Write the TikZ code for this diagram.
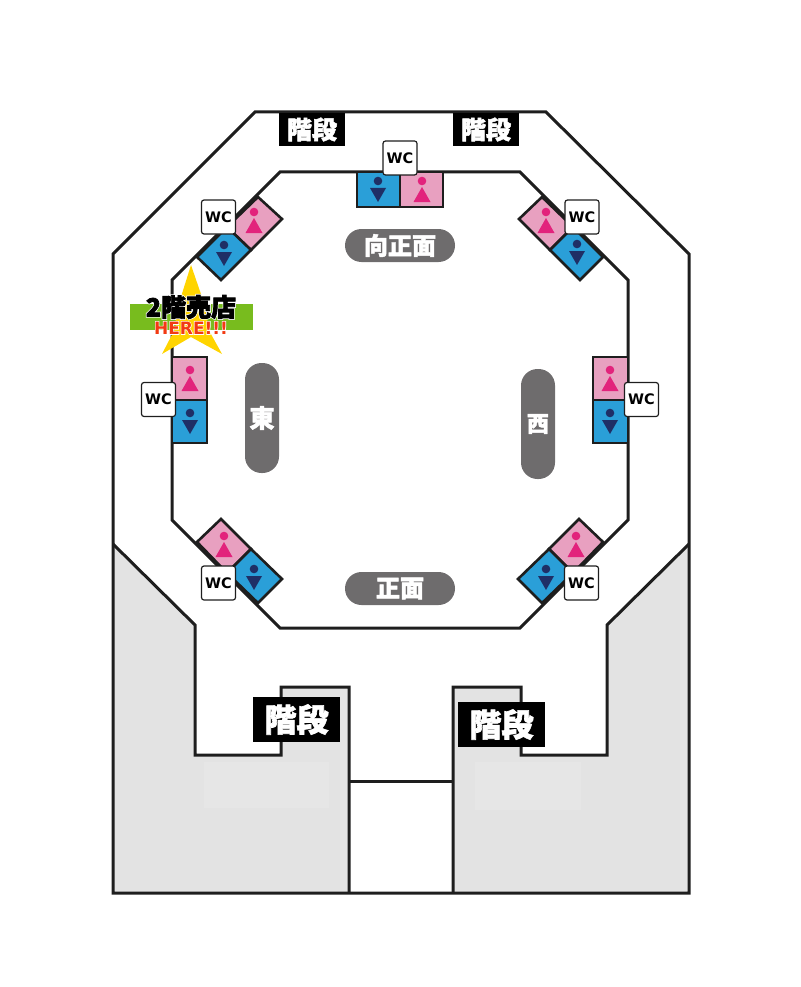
\documentclass[tikz,border=0pt]{standalone}
\usepackage{fontspec}
\usepackage{xcolor}
\newfontfamily\jpfont{Noto Sans CJK JP}[BoldFeatures={FakeBold=2}]
\newfontfamily\heavyfont{Noto Sans CJK JP}[BoldFeatures={FakeBold=3}]
\newfontfamily\halofont{Noto Sans CJK JP}[BoldFeatures={FakeBold=9}]
\newfontfamily\haloherefont{DejaVu Sans}[BoldFeatures={FakeBold=7}]
\setsansfont{DejaVu Sans}
\definecolor{floorgray}{HTML}{E3E3E3}
\definecolor{patchgray}{HTML}{E6E6E6}
\definecolor{pillgray}{HTML}{6E6C6D}
\definecolor{ladypink}{HTML}{E8A0C0}
\definecolor{ladymark}{HTML}{E2237C}
\definecolor{gentsblue}{HTML}{2A9FD8}
\definecolor{gentsmark}{HTML}{1F2F66}
\definecolor{linedark}{HTML}{1E1E1E}
\definecolor{barfill}{HTML}{78BC1E}
\definecolor{starfill}{HTML}{FFD400}
\definecolor{hereorange}{HTML}{F23A12}
\tikzset{
  floorline/.style={draw=linedark,line width=3pt,line join=miter},
  ladycell/.style={draw=linedark,line width=2.6pt,fill=ladypink},
  gentscell/.style={draw=linedark,line width=2.6pt,fill=gentsblue},
  wcbox/.style={draw=linedark,line width=1.2pt,fill=white,rounded corners=2.5pt,minimum width=34pt,minimum height=34pt,inner sep=0pt,font=\sffamily\bfseries\fontsize{14.5}{14.5}\selectfont},
  stairsbox/.style={fill=black,text=white,inner sep=0pt,font=\jpfont\bfseries},
  pillbox/.style={fill=pillgray,text=white,inner sep=0pt,rounded corners=16.5pt,font=\jpfont\bfseries\fontsize{24}{24}\selectfont}
}
\newcommand{\ladyicon}[2]{\fill[ladymark] (#1,#2) circle (4.3);
\fill[ladymark] (#1,#2+6) -- (#1+8.5,#2+21) -- (#1-8.5,#2+21) -- cycle;}
\newcommand{\gentsicon}[2]{\fill[gentsmark] (#1,#2) circle (4.3);
\fill[gentsmark] (#1-8,#2+7) -- (#1+8,#2+7) -- (#1,#2+21) -- cycle;}

\begin{document}
\begin{tikzpicture}[x=1pt,y=-1pt]
\useasboundingbox (0,0) rectangle (800,987);
% floor plan
\fill[floorgray] (113,544) -- (195,625) -- (195,755) -- (281,755) -- (281,687) -- (349,687) -- (349,893) -- (113,893) -- cycle;
\fill[floorgray] (689,544) -- (607,625) -- (607,755) -- (521,755) -- (521,687) -- (453,687) -- (453,893) -- (689,893) -- cycle;
\fill[patchgray] (204,762) rectangle (329,808);
\fill[patchgray] (475,762) rectangle (581,810);
\draw[floorline] (255,112) -- (546,112) -- (689,254) -- (689,893) -- (113,893) -- (113,254) -- cycle;
\draw[floorline] (280,172) -- (520,172) -- (628,280) -- (628,520) -- (520,628) -- (280,628) -- (172,520) -- (172,280) -- cycle;
\draw[floorline] (113,544) -- (195,625) -- (195,755) -- (281,755) -- (281,687) -- (349,687) -- (349,893);
\draw[floorline] (689,544) -- (607,625) -- (607,755) -- (521,755) -- (521,687) -- (453,687) -- (453,893);
\draw[floorline] (349,781) -- (453,781);
% toilets
\draw[gentscell] (357,172) rectangle (400,207);
\draw[ladycell] (400,172) rectangle (443,207);
\draw[ladycell] (258,197) -- (282,219) -- (251,250) -- (227,227) -- cycle;
\draw[gentscell] (227,227) -- (251,250) -- (221,280) -- (197,257) -- cycle;
\draw[ladycell] (542,197) -- (519,219) -- (550,250) -- (573,227) -- cycle;
\draw[gentscell] (573,227) -- (550,250) -- (580,280) -- (603,257) -- cycle;
\draw[ladycell] (172,357) rectangle (207,400);
\draw[gentscell] (172,400) rectangle (207,443);
\draw[ladycell] (593,357) rectangle (628,400);
\draw[gentscell] (593,400) rectangle (628,443);
\draw[ladycell] (579,519) -- (603,542) -- (573,573) -- (549,549) -- cycle;
\draw[gentscell] (549,549) -- (573,573) -- (542,603) -- (518,579) -- cycle;
\draw[ladycell] (221,519) -- (197,542) -- (227,573) -- (251,549) -- cycle;
\draw[gentscell] (251,549) -- (227,573) -- (258,603) -- (282,579) -- cycle;
\gentsicon{378}{181}
\ladyicon{422}{181}
\ladyicon{254}{212}
\gentsicon{224}{245}
\ladyicon{546}{212}
\gentsicon{577}{244}
\ladyicon{190}{370}
\gentsicon{190}{413}
\ladyicon{610}{370}
\gentsicon{610}{413}
\ladyicon{576}{536}
\gentsicon{546}{569}
\ladyicon{224}{536}
\gentsicon{254}{569}
\node[wcbox] (wcTop) at (400,158) {WC};
\node[wcbox] (wcNW) at (218.5,217) {WC};
\node[wcbox] (wcNE) at (582,217) {WC};
\node[wcbox] (wcEast) at (158.5,399.5) {WC};
\node[wcbox] (wcWest) at (641.5,399.5) {WC};
\node[wcbox] (wcSW) at (218.5,583) {WC};
\node[wcbox] (wcSE) at (581.5,583) {WC};
% stairs
\node[stairsbox,minimum width=66pt,minimum height=33pt] (stairsTL) at (312,129.5) {\fontsize{25}{25}\selectfont 階段};
\node[stairsbox,minimum width=66pt,minimum height=33pt] (stairsTR) at (486,129.5) {\fontsize{25}{25}\selectfont 階段};
\node[stairsbox,minimum width=87pt,minimum height=45pt] (stairsBL) at (296.5,719.5) {\fontsize{32}{32}\selectfont 階段};
\node[stairsbox,minimum width=87pt,minimum height=45pt] (stairsBR) at (501.5,724.5) {\fontsize{32}{32}\selectfont 階段};
% sides
\node[pillbox,minimum width=110pt,minimum height=33pt] (pillNorth) at (400,245.5) {向正面};
\node[pillbox,minimum width=110pt,minimum height=33pt] (pillSouth) at (400,588.5) {正面};
\node[pillbox,minimum width=34pt,minimum height=110pt] (pillEast) at (262,418) {\fontsize{25}{25}\selectfont 東};
\node[pillbox,minimum width=34pt,minimum height=110pt] (pillWest) at (538,424) {\fontsize{22}{22}\selectfont 西};
% shop marker
\fill[barfill] (130,304) rectangle (253,330);
\fill[starfill] (191,265) -- (203,300) -- (208,308) -- (207,327) -- (222,354) -- (191,337) -- (162,354) -- (176,327) -- (175,308) -- (180,300) -- cycle;
\node[inner sep=0pt,font=\fontsize{25}{25}\selectfont] (shopLabel) at (191,307) {\rlap{\halofont\bfseries\color{white}2階売店}\heavyfont\bfseries 2階売店};
\node[inner sep=0pt,text=hereorange,font=\fontsize{17}{17}\selectfont] (hereLabel) at (191,328) {\rlap{\haloherefont\bfseries\color{white}HERE!!!}\sffamily\bfseries HERE!!!};
\end{tikzpicture}
\end{document}
